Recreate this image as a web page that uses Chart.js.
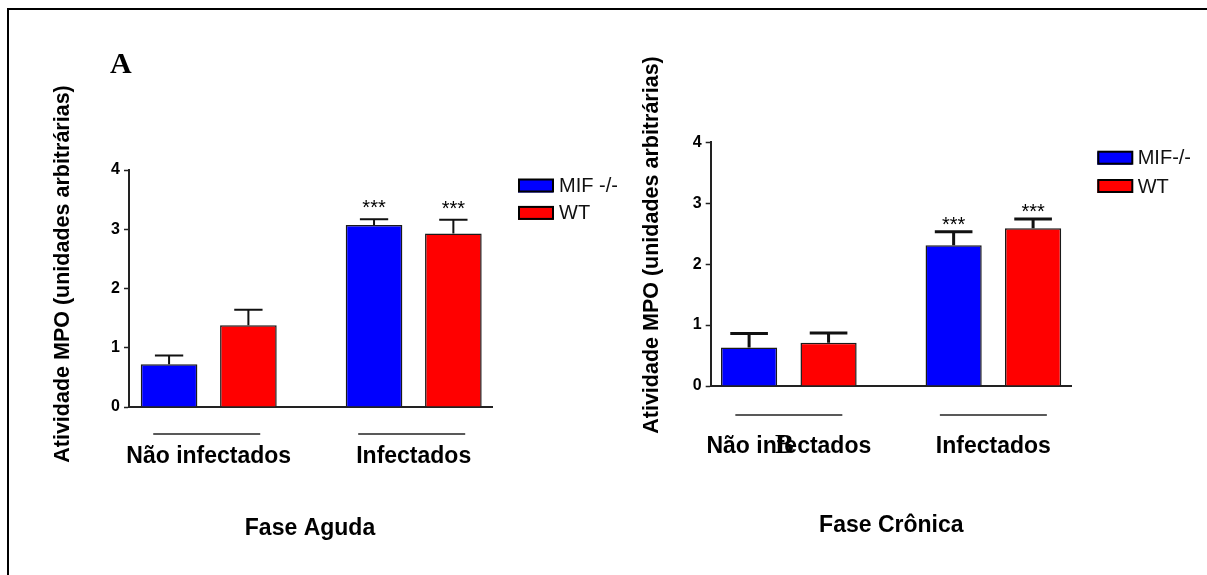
<!DOCTYPE html>
<html>
<head>
<meta charset="utf-8">
<script src="https://cdn.jsdelivr.net/npm/chart.js@4.4.1/dist/chart.umd.min.js"></script>
<style>
  html, body { margin: 0; padding: 0; background: #fff; }
  #page { position: relative; width: 1207px; height: 575px; overflow: hidden; background: #fff; }
  #frame { position: absolute; left: 7px; top: 8px; width: 1300px; height: 700px;
           border-top: 2px solid #000; border-left: 2px solid #000; }
  canvas { position: absolute; top: 0; }
  #acute { left: 0; }
  #chronic { left: 620px; }
</style>
</head>
<body>
<div id="page">
  <div id="frame"></div>
  <canvas id="acute" width="620" height="575"></canvas>
  <canvas id="chronic" width="587" height="575"></canvas>
</div>
<script>
// Groups on the x axis and y-axis ticks
const categories = ['Não infectados', 'Infectados'];
const yTicks = [0, 1, 2, 3, 4];

// Fase Aguda: mean MPO activity, error (SEM) and significance marks
const acuteLabels = ['MIF -/-', 'WT'];
const acuteMif = [0.72, 3.07];
const acuteMifErr = [0.15, 0.10];
const acuteMifSig = ['', '***'];
const acuteWt = [1.38, 2.93];
const acuteWtErr = [0.26, 0.23];
const acuteWtSig = ['', '***'];

// Fase Crônica
const chronicLabels = ['MIF-/-', 'WT'];
const chronicMif = [0.63, 2.31];
const chronicMifErr = [0.23, 0.22];
const chronicMifSig = ['', '***'];
const chronicWt = [0.71, 2.59];
const chronicWtErr = [0.16, 0.15];
const chronicWtSig = ['', '***'];

const seriesColors = ['#0000ff', '#ff0000'];
const SANS = "'Liberation Sans', Arial, sans-serif";
const SERIF = "'Liberation Serif', 'Times New Roman', serif";

Chart.defaults.color = '#000';
Chart.defaults.font.family = SANS;

// Error bars, significance stars, legend, titles and group rules
const panelDecor = {
  id: 'panelDecor',
  afterDatasetsDraw(chart, args, o) {
    const ctx = chart.ctx;
    const ys = chart.scales.y;
    ctx.save();
    chart.data.datasets.forEach((ds, di) => {
      const meta = chart.getDatasetMeta(di);
      meta.data.forEach((bar, i) => {
        const v = ds.data[i].y;
        const top = ys.getPixelForValue(v + ds.errors[i]);
        const half = bar.width * o.capRatio / 2;
        ctx.strokeStyle = '#111';
        ctx.lineWidth = o.errWidth;
        ctx.beginPath();
        ctx.moveTo(bar.x, bar.y);
        ctx.lineTo(bar.x, top);
        ctx.moveTo(bar.x - half, top);
        ctx.lineTo(bar.x + half, top);
        ctx.stroke();
        const mark = ds.marks[i];
        if (mark) {
          ctx.font = o.markFont;
          ctx.fillStyle = '#000';
          ctx.textAlign = 'center';
          ctx.textBaseline = 'alphabetic';
          ctx.fillText(mark, bar.x, top - o.markGap);
        }
      });
    });
    ctx.restore();
  },
  afterDraw(chart, args, o) {
    const ctx = chart.ctx;
    const xs = chart.scales.x;
    ctx.save();

    // rules above the group labels
    ctx.strokeStyle = '#222';
    ctx.lineWidth = 1.5;
    categories.forEach((c, i) => {
      const cx = xs.getPixelForValue(i) + o.ruleShift;
      ctx.beginPath();
      ctx.moveTo(cx - o.ruleLen / 2, o.ruleY);
      ctx.lineTo(cx + o.ruleLen / 2, o.ruleY);
      ctx.stroke();
    });

    // legend
    chart.data.datasets.forEach((ds, di) => {
      const bx = o.legend.x, by = o.legend.y + di * o.legend.gap;
      ctx.fillStyle = ds.backgroundColor;
      ctx.fillRect(bx, by, 35, 13);
      ctx.strokeStyle = '#000';
      ctx.lineWidth = 2;
      ctx.strokeRect(bx + 1, by, 34, 12);
      ctx.fillStyle = '#111';
      ctx.font = '20px ' + SANS;
      ctx.textAlign = 'left';
      ctx.textBaseline = 'middle';
      ctx.fillText(ds.label, o.legend.textX, by + 7);
    });

    // axis titles
    ctx.fillStyle = '#000';
    ctx.textAlign = 'center';
    ctx.textBaseline = 'middle';
    ctx.font = 'bold 23px ' + SANS;
    ctx.fillText(o.xTitle.text, o.xTitle.x, o.xTitle.y);
    ctx.save();
    ctx.translate(o.yTitle.x, o.yTitle.y);
    ctx.rotate(-Math.PI / 2);
    ctx.font = 'bold 21.5px ' + SANS;
    ctx.fillText(o.yTitle.text, 0, 0);
    ctx.restore();

    // panel letter
    ctx.font = o.letter.font;
    ctx.textAlign = 'left';
    ctx.textBaseline = 'alphabetic';
    ctx.fillText(o.letter.text, o.letter.x, o.letter.y);
    ctx.restore();
  }
};

function buildDatasets(labels, values, errors, marks) {
  return labels.map((label, s) => ({
    label: label,
    data: values[s].map((v, i) => ({ x: i, y: v })),
    errors: errors[s],
    marks: marks[s],
    backgroundColor: seriesColors[s],
    borderColor: '#1a1a1a',
    borderWidth: 1.5,
    borderSkipped: 'bottom'
  }));
}

function makePanel(id, datasets, p) {
  return new Chart(document.getElementById(id), {
    type: 'bar',
    data: { datasets: datasets },
    plugins: [panelDecor],
    options: {
      responsive: false,
      animation: false,
      devicePixelRatio: 1,
      layout: { padding: p.padding },
      datasets: { bar: { categoryPercentage: p.catPct, barPercentage: p.barPct, grouped: true } },
      plugins: {
        legend: { display: false },
        tooltip: { enabled: false },
        panelDecor: p.decor
      },
      scales: {
        x: {
          type: 'linear',
          min: p.xMin,
          max: p.xMax,
          offset: false,
          grid: { display: false, drawTicks: false, offset: false },
          border: { display: true, color: '#222', width: 2 },
          afterBuildTicks: (s) => { s.ticks = categories.map((c, i) => ({ value: i })); },
          afterFit: (s) => { s.height = p.xHeight; },
          ticks: {
            autoSkip: false,
            maxRotation: 0,
            padding: p.xLabelPad,
            font: { size: 23, weight: 'bold' },
            color: '#000',
            callback: (v) => categories[v]
          }
        },
        y: {
          type: 'linear',
          min: 0,
          max: 4,
          afterBuildTicks: (s) => { s.ticks = yTicks.map((v) => ({ value: v })); },
          afterFit: (s) => { s.width = p.yWidth; },
          grid: { display: true, drawOnChartArea: false, drawTicks: true, tickLength: 5, tickColor: '#222', tickWidth: 1.5 },
          border: { display: true, color: '#222', width: 2 },
          ticks: { padding: 4, font: { size: 16, weight: 'bold' }, color: '#000' }
        }
      }
    }
  });
}

makePanel('acute',
  buildDatasets(acuteLabels, [acuteMif, acuteWt], [acuteMifErr, acuteWtErr], [acuteMifSig, acuteWtSig]),
  {
    padding: { left: 40, top: 170, right: 128, bottom: 0 },
    yWidth: 89, xHeight: 168,
    xMin: -0.389, xMax: 1.382,
    catPct: 0.774, barPct: 0.714,
    xLabelPad: 36,
    decor: {
      errWidth: 2, capRatio: 0.5, markGap: 5, markFont: '20px ' + SANS,
      ruleY: 434, ruleLen: 107, ruleShift: -2,
      legend: { x: 518, y: 179.5, gap: 27.4, textX: 559 },
      xTitle: { text: 'Fase Aguda', x: 310, y: 529 },
      yTitle: { text: 'Atividade MPO (unidades arbitrárias)', x: 63, y: 274 },
      letter: { text: 'A', x: 110, y: 72.5, font: 'bold 30px ' + SERIF }
    }
  });

makePanel('chronic',
  buildDatasets(chronicLabels, [chronicMif, chronicWt], [chronicMifErr, chronicWtErr], [chronicMifSig, chronicWtSig]),
  {
    padding: { left: 30, top: 142.3, right: 135.3, bottom: 0 },
    yWidth: 60.7, xHeight: 189,
    xMin: -0.382, xMax: 1.383,
    catPct: 0.777, barPct: 0.707,
    xLabelPad: 47,
    decor: {
      errWidth: 3, capRatio: 0.67, markGap: 1, markFont: '20px ' + SANS,
      ruleY: 415, ruleLen: 107, ruleShift: 0,
      legend: { x: 477.3, y: 151.7, gap: 28.3, textX: 517.7 },
      xTitle: { text: 'Fase Crônica', x: 271.3, y: 526 },
      yTitle: { text: 'Atividade MPO (unidades arbitrárias)', x: 32, y: 245 },
      letter: { text: 'B', x: 155, y: 453, font: 'bold 28px ' + SERIF }
    }
  });
</script>
</body>
</html>
